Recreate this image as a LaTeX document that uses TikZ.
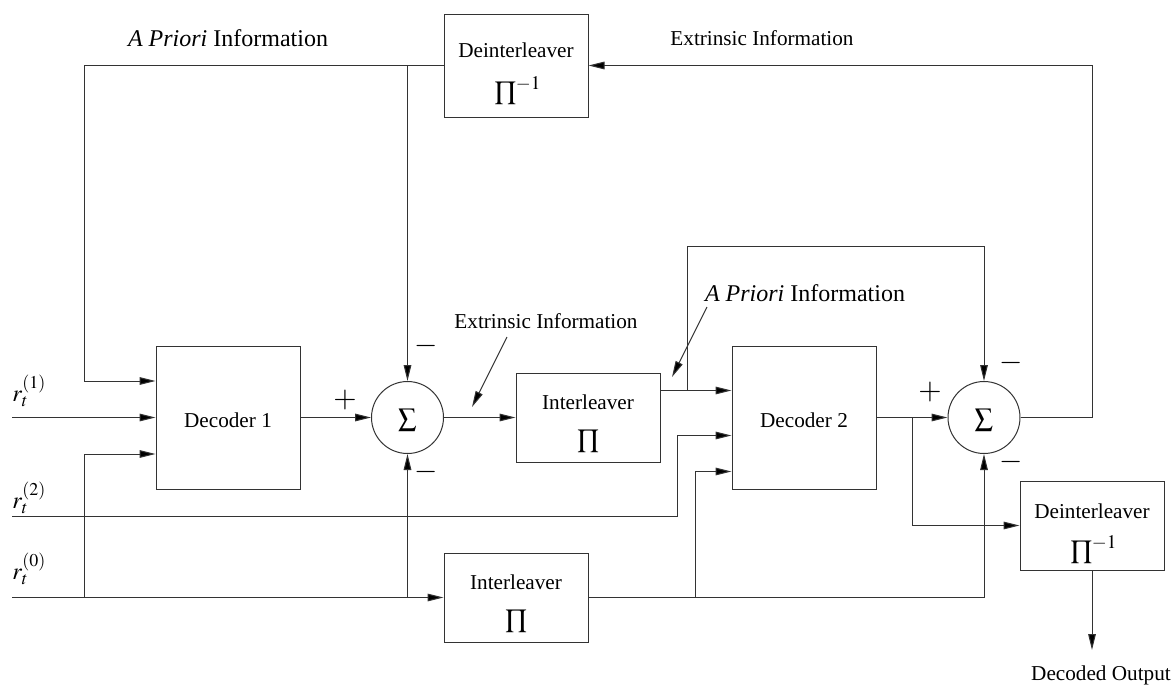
\documentclass[tikz,border=0pt]{standalone}
\usepackage{mathptmx}
\usepackage{fontspec}
\setmainfont{Liberation Serif}
\usetikzlibrary{arrows.meta,calc}

\begin{document}
\begin{tikzpicture}[x=0.5pt,y=-0.5pt,
  wire/.style={draw=black!80, line width=0.5pt},
  flow/.style={wire, -{Triangle[length=8pt,width=3.8pt,fill=black]}},
  block/.style={draw=black!80, line width=0.5pt, rectangle, inner sep=0pt, minimum width=72pt},
  adder/.style={draw=black!80, line width=0.5pt, circle, inner sep=0pt, minimum size=36pt},
  txt/.style={font=\fontsize{10.6}{12}\selectfont, inner sep=0pt},
  op/.style={font=\fontsize{13}{15}\selectfont, inner sep=0pt},
  big/.style={font=\fontsize{12}{14}\selectfont, inner sep=0pt},
  sgn/.style={font=\fontsize{15}{17}\selectfont, inner sep=0pt},
]
\useasboundingbox (0,0) rectangle (1173,691);

% ---- blocks ----
\node[block, minimum height=51.5pt] (deintA) at (516,65.5) {};
\node[block, minimum height=71.5pt] (decA)   at (228,417.5) {};
\node[adder]                        (sumA)   at (407.5,417.5) {};
\node[block, minimum height=44.5pt] (intA)   at (588,417.5) {};
\node[block, minimum height=44.5pt] (intB)   at (516,597.5) {};
\node[block, minimum height=71.5pt] (decB)   at (804,417.5) {};
\node[adder]                        (sumB)   at (984,417.5) {};
\node[block, minimum height=44.5pt] (deintB) at (1092,525.5) {};

% ---- block captions ----
\node[txt] (deintAname) at (516,50)  {Deinterleaver};
\node[op]  (deintAop)   at (518,90)  {$\textstyle\prod^{-1}$};
\node[txt] (decAname)   at (228,420) {Decoder 1};
\node[op]  (sumAop)     at (407.5,420) {$\textstyle\sum$};
\node[txt] (intAname)   at (588,402.5) {Interleaver};
\node[op]  (intAop)     at (588,441.5) {$\textstyle\prod$};
\node[txt] (intBname)   at (516,582.5) {Interleaver};
\node[op]  (intBop)     at (516,621.5) {$\textstyle\prod$};
\node[txt] (decBname)   at (804,420.5) {Decoder 2};
\node[op]  (sumBop)     at (984,420) {$\textstyle\sum$};
\node[txt] (deintBname) at (1092,511) {Deinterleaver};
\node[op]  (deintBop)   at (1094,549) {$\textstyle\prod^{-1}$};

% ---- inputs ----
\coordinate (inR1) at (12,417.5);
\coordinate (inR2) at (12,516.7);
\coordinate (inR0) at (12,597.5);
\node[big, anchor=west] (labR1) at (12,391) {$r_t^{(1)}$};
\node[big, anchor=west] (labR2) at (12,498) {$r_t^{(2)}$};
\node[big, anchor=west] (labR0) at (12,569) {$r_t^{(0)}$};

% ---- signs at the adders ----
\node[sgn] (pA)  at (345,400) {$+$};
\node[sgn] (mA1) at (426,346) {$-$};
\node[sgn] (mA2) at (426,472) {$-$};
\node[sgn] (pB)  at (930,392) {$+$};
\node[sgn] (mB1) at (1011,363) {$-$};
\node[sgn] (mB2) at (1011,462) {$-$};

% ---- signal labels ----
\node[big] (apTop) at (228,38)  {\textit{A Priori} Information};
\node[txt] (exTop) at (762,38)  {Extrinsic Information};
\node[txt] (exMid) at (546,321.5) {Extrinsic Information};
\node[big] (apMid) at (805,293) {\textit{A Priori} Information};
\coordinate (exTail) at (507,337);
\coordinate (exHead) at (472,407);
\coordinate (apTail) at (707,307);
\coordinate (apHead) at (672,377);
\draw[flow] (exTail) -- (exHead);
\draw[flow] (apTail) -- (apHead);

% ---- decoder 1 side ----
\coordinate (fbA) at (84,65.5);
\draw[flow] (deintA.west) -- (fbA) |- ($(decA.west)+(0,-36.5)$);
\draw[flow] (sumA |- deintA.west) -- (sumA.north);
\draw[flow] (inR1) -- (decA.west);
\draw[flow] (inR0) -- (intB.west);
\draw[flow] (fbA |- inR0) |- ($(decA.west)+(0,36.5)$);
\draw[flow] (sumA |- inR0) -- (sumA.south);
\draw[flow] (decA.east) -- (sumA.west);
\draw[flow] (sumA.east) -- (intA.west);

% ---- decoder 2 side ----
\draw[flow] ($(intA.east)+(0,-27)$) -- ($(decB.west)+(0,-27)$);
\path (sumB.center) ++(0,-171) coordinate (topB);
\draw[flow] ($(intA.east)+(27,-27)$) |- (topB) -- (sumB.north);
\draw[flow] (inR2) -| ($(decB.west)+(-54,18)$) -- ($(decB.west)+(0,18)$);
\draw[flow] (intB.east) -| (sumB.south);
\draw[flow] ($(decB.west |- intB.east)+(-36,0)$) |- ($(decB.west)+(0,54)$);
\draw[flow] (decB.east) -- (sumB.west);
\draw[flow] ($(decB.east)+(36,0)$) |- (deintB.west);
\draw[flow] (sumB.east) -| (deintB |- deintA.east) -- (deintA.east);

% ---- output ----
\coordinate (outEnd) at (1092,650);
\draw[flow] (deintB.south) -- (outEnd);
\node[txt] (outLabel) at (1101,675) {Decoded Output};
\end{tikzpicture}
\end{document}
